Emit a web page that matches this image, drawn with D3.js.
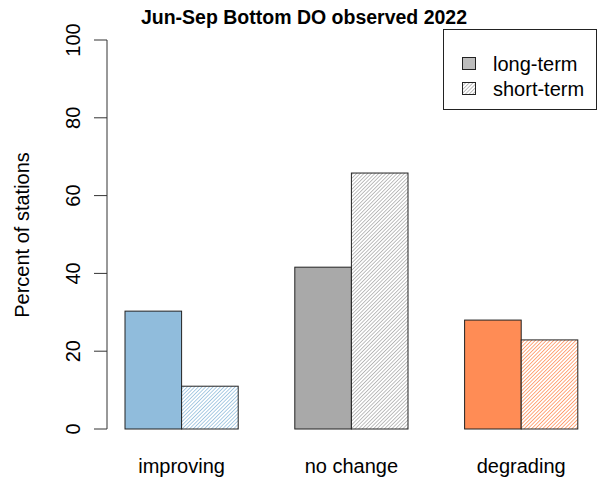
<!DOCTYPE html>
<html>
<head>
<meta charset="utf-8">
<script src="https://cdn.jsdelivr.net/npm/d3@7"></script>
<style>
  body { margin: 0; background: #fff; }
  svg text { font-family: "Liberation Sans", Arial, sans-serif; fill: #000; }
</style>
</head>
<body>
<svg id="chart" width="605" height="480"></svg>
<script>
var categories = ["improving", "no change", "degrading"];
var longTerm = [30.3, 41.6, 28.0];
var shortTerm = [11.0, 65.8, 22.9];
var colors = ["#90bcdc", "#a9a9a9", "#ff8c55"];
var yTicks = [0, 20, 40, 60, 80, 100];
var legendLabels = ["long-term", "short-term"];

var svg = d3.select("#chart");

// barplot units: each group = 2 bars of width 1, one unit gap before
var x = d3.scaleLinear().domain([0, 9]).range([68.4, 577.8]);
var y = d3.scaleLinear().domain([0, 100]).range([429, 40]);

var defs = svg.append("defs");
function makeHatch(id, c, step, w) {
  var p = defs.append("pattern")
    .attr("id", id)
    .attr("patternUnits", "userSpaceOnUse")
    .attr("width", step).attr("height", step)
    .attr("patternTransform", "rotate(45)");
  p.append("rect").attr("width", step).attr("height", step).attr("fill", "#fff");
  p.append("line").attr("x1", 0).attr("y1", 0).attr("x2", 0).attr("y2", step)
    .attr("stroke", c).attr("stroke-width", w);
}
colors.forEach(function(c, i) { makeHatch("hatch" + i, c, 2.6, 1.5); });
makeHatch("hatchLegend", "#a9a9a9", 2.6, 1.5);

var bars = svg.append("g");
categories.forEach(function(cat, i) {
  var start = 1 + i * 3;
  bars.append("rect")
    .attr("x", x(start)).attr("width", x(start + 1) - x(start))
    .attr("y", y(longTerm[i])).attr("height", y(0) - y(longTerm[i]))
    .attr("fill", colors[i]).attr("stroke", "#222").attr("stroke-width", 1);
  bars.append("rect")
    .attr("x", x(start + 1)).attr("width", x(start + 2) - x(start + 1))
    .attr("y", y(shortTerm[i])).attr("height", y(0) - y(shortTerm[i]))
    .attr("fill", "url(#hatch" + i + ")").attr("stroke", "#222").attr("stroke-width", 1);
  svg.append("text")
    .attr("x", x(start + 1)).attr("y", 473)
    .attr("text-anchor", "middle").attr("font-size", 20)
    .text(cat);
});

// y axis
var yAxis = svg.append("g").attr("transform", "translate(107,0)");
yAxis.append("line").attr("x1", 0).attr("x2", 0).attr("y1", y(0)).attr("y2", y(100))
  .attr("stroke", "#333");
yAxis.selectAll("line.tick").data(yTicks).enter().append("line")
  .attr("class", "tick")
  .attr("x1", -13).attr("x2", 0)
  .attr("y1", function(d) { return y(d); }).attr("y2", function(d) { return y(d); })
  .attr("stroke", "#333");
yAxis.selectAll("text").data(yTicks).enter().append("text")
  .attr("transform", function(d) { return "translate(-34," + y(d) + ") rotate(-90)"; })
  .attr("text-anchor", "middle").attr("dy", "0.35em").attr("font-size", 20)
  .text(function(d) { return d; });

svg.append("text")
  .attr("transform", "translate(29,235) rotate(-90)")
  .attr("text-anchor", "middle").attr("font-size", 20)
  .text("Percent of stations");

svg.append("text")
  .attr("x", 304).attr("y", 24)
  .attr("text-anchor", "middle").attr("font-size", 19.5).attr("font-weight", "bold")
  .text("Jun-Sep Bottom DO observed 2022");

// legend
var lg = svg.append("g");
lg.append("rect").attr("x", 443.5).attr("y", 29.5).attr("width", 153).attr("height", 80)
  .attr("fill", "#fff").attr("stroke", "#222");
legendLabels.forEach(function(l, i) {
  var yy = 64 + i * 25;
  lg.append("rect").attr("x", 462.5).attr("y", yy - 6.5).attr("width", 13).attr("height", 12)
    .attr("fill", i === 0 ? "#bdbdbd" : "url(#hatchLegend)").attr("stroke", "#222");
  lg.append("text").attr("x", 493).attr("y", yy).attr("dy", "0.35em")
    .attr("font-size", 20).text(l);
});
</script>
</body>
</html>
